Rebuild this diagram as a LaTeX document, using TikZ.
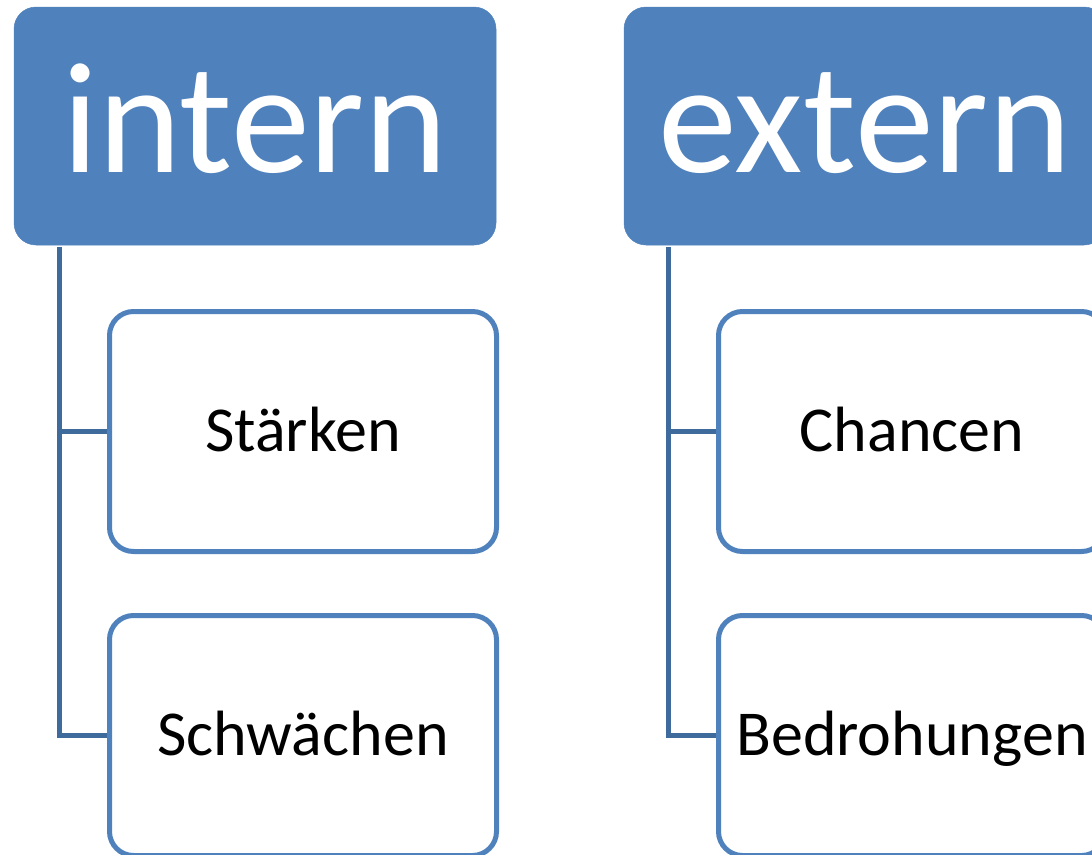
\documentclass[tikz,border=0pt]{standalone}
\usepackage{fontspec}
\setmainfont{Carlito}
\definecolor{accent}{HTML}{4F81BD}
\definecolor{connblue}{HTML}{3F6A9C}
\tikzset{
  header/.style={rectangle, rounded corners=22pt, fill=accent, draw=accent, line width=0.5pt,
    minimum width=482pt, minimum height=238pt, inner sep=0pt, text=white,
    font=\fontsize{158}{158}\selectfont, text height=104pt, text depth=12pt},
  item/.style={rectangle, rounded corners=24pt, fill=white, draw=accent, line width=5pt,
    minimum width=387pt, minimum height=240pt, inner sep=0pt, text=black,
    font=\fontsize{64}{64}\selectfont, text height=48pt, text depth=8pt},
  conn/.style={draw=connblue, line width=4.8pt}
}
\begin{document}
\begin{tikzpicture}[x=1pt, y=-1pt]
  \useasboundingbox (0,0) rectangle (1092,854);
  \clip (0,0) rectangle (1092,854);
  % left column: internal factors
  \node[header] (intern) at (255,126) {intern};
  \node[item] (staerken) at (303,431.5) {Stärken};
  \node[item] (schwaechen) at (303,735.5) {Schwächen};
  \coordinate (lroot) at ([xshift=46pt,yshift=-2pt]intern.south west);
  \draw[conn] (lroot) |- (staerken.west);
  \draw[conn] (lroot) |- (schwaechen.west);
  % right column: external factors
  \node[header] (extern) at (865,126) {extern};
  \node[item] (chancen) at (912,431.5) {Chancen};
  \node[item] (bedrohungen) at (912,735.5) {Bedrohungen};
  \coordinate (rroot) at ([xshift=45pt,yshift=-2pt]extern.south west);
  \draw[conn] (rroot) |- (chancen.west);
  \draw[conn] (rroot) |- (bedrohungen.west);
\end{tikzpicture}
\end{document}
